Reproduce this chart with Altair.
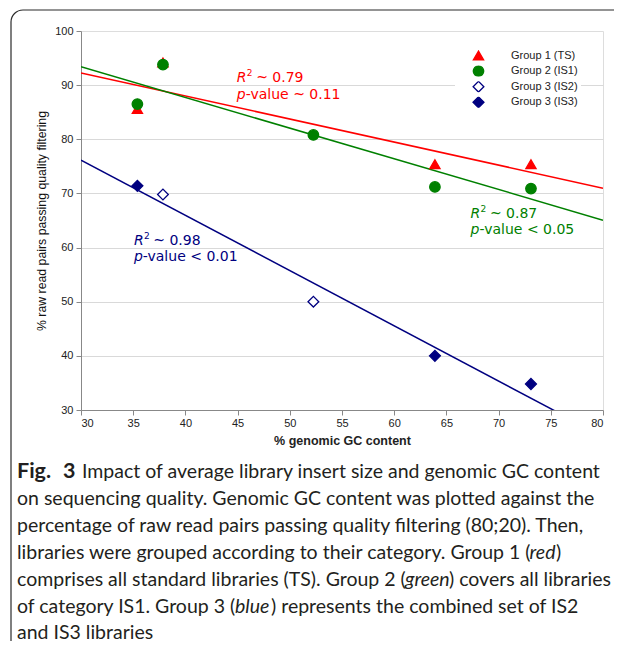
import altair as alt
import pandas as pd

# ---------------- data ----------------
groups = ["Group 1 (TS)", "Group 2 (IS1)", "Group 3 (IS2)", "Group 3 (IS3)"]
fit_sets = ["TS", "IS1", "IS2+IS3"]

gc_ts = [35.4, 37.85, 63.9, 73.1]
q_ts = [85.6, 94.2, 75.4, 75.4]
gc_is1 = [35.4, 37.85, 52.26, 63.9, 73.1]
q_is1 = [86.5, 93.8, 80.8, 71.2, 70.9]
gc_is2 = [37.85, 52.26]
q_is2 = [69.8, 50.0]
gc_is3 = [35.4, 63.9, 73.1]
q_is3 = [71.4, 40.0, 34.8]

x_ticks = list(range(30, 81, 5))
y_ticks = list(range(30, 101, 5))

# regression annotations (data coordinates of the text block)
ann_x = [44.93, 67.32, 35.07]
ann_y_r2 = [91.3, 66.2, 61.2]
ann_y_p = [88.1, 63.2, 58.2]
ann_r2 = ["~ 0.79", "~ 0.87", "~ 0.98"]
ann_p = ["-value ~ 0.11", "-value < 0.05", "-value < 0.01"]

caption = [
    [("Fig.", "bold"), ("3", "bold"), ("Impact of average library insert size and genomic GC content", "normal")],
    [("on sequencing quality. Genomic GC content was plotted against the", "normal")],
    [("percentage of raw read pairs passing quality filtering (80;20). Then,", "normal")],
    [("libraries were grouped according to their category. Group 1 (", "normal"), ("red", "italic"), (")", "normal")],
    [("comprises all standard libraries (TS). Group 2 (", "normal"), ("green", "italic"), (") covers all libraries", "normal")],
    [("of category IS1. Group 3 (", "normal"), ("blue", "italic"), (") represents the combined set of IS2", "normal")],
    [("and IS3 libraries", "normal")],
]

# ---------------- styles ----------------
group_shapes = ["triangle-up", "circle", "diamond", "diamond"]
group_fill = ["#ff0000", "#008000", "#ffffff", "#000080"]
group_stroke = ["#ff0000", "#008000", "#000080", "#000080"]
group_size = [105, 120, 70, 80]
fit_colors = ["#ff0000", "#008000", "#000080"]
ann_colors = ["#ff0000", "#008000", "#000080"]

W, H = 522, 379
# caption piece x positions (pixels relative to plot left) and baselines
cap_x = [[-64, -18, 1], [-64], [-64], [-64, 448.5, 475], [-64, 324, 368], [-64, 154, 190], [-64]]
cap_base = [446.5, 473.5, 500.5, 527.5, 554.5, 581.5, 607.5]
cap_size = 19.5

rows = []
for g, fit, xs, ys in [(groups[0], fit_sets[0], gc_ts, q_ts),
                       (groups[1], fit_sets[1], gc_is1, q_is1),
                       (groups[2], fit_sets[2], gc_is2, q_is2),
                       (groups[3], fit_sets[2], gc_is3, q_is3)]:
    for xv, yv in zip(xs, ys):
        rows.append({"group": g, "fit": fit, "gc": xv, "q": yv})
df = pd.DataFrame(rows)

ann_df = pd.DataFrame({"x": ann_x, "yr": ann_y_r2, "yp": ann_y_p,
                       "r2": ann_r2, "p": ann_p, "col": ann_colors})
one = pd.DataFrame({"a": [0]})

X = alt.X("gc:Q", scale=alt.Scale(domain=[30, 80], nice=False, zero=False),
          axis=alt.Axis(values=x_ticks, title="% genomic GC content", grid=False,
                        domainColor="#888888", tickColor="#888888", tickSize=5,
                        labelFont="Liberation Sans", labelFontSize=11, labelColor="#222222",
                        labelPadding=2, titleFont="Liberation Sans", titleFontSize=12.5,
                        titleFontWeight="bold", titleColor="#222222", titlePadding=6))
Y = alt.Y("q:Q", scale=alt.Scale(domain=[30, 100], nice=False, zero=False),
          axis=alt.Axis(values=y_ticks, title="% raw read pairs passing quality filtering",
                        grid=True, gridColor="#d9d9d9", gridWidth=1,
                        gridOpacity={"condition": {"test": "datum.value > 30 && datum.value < 100", "value": 1}, "value": 0},
                        labelExpr="datum.value % 10 === 0 ? datum.label : ''",
                        tickOpacity={"condition": {"test": "datum.value % 10 === 0", "value": 1}, "value": 0},
                        domainColor="#888888", tickColor="#888888", tickSize=5,
                        labelFont="Liberation Sans", labelFontSize=11, labelColor="#222222",
                        labelPadding=3, titleFont="Liberation Sans", titleFontSize=12.3,
                        titleFontWeight="normal", titleColor="#111111", titlePadding=6))

frame = alt.Chart(one).mark_rect(fillOpacity=0, stroke="#2b2b2b", strokeWidth=1.2,
                                 cornerRadius=12).encode(
    x=alt.value(-70), x2=alt.value(W + 60), y=alt.value(-21), y2=alt.value(H + 260))

lines = alt.Chart(df).transform_regression(
    "gc", "q", groupby=["fit"], extent=[30, 80]
).mark_line(clip=True, strokeWidth=1.5).encode(
    x=X, y=Y,
    color=alt.Color("fit:N", scale=alt.Scale(domain=fit_sets, range=fit_colors), legend=None))

leg = alt.Legend(title=None, orient="none", legendX=374, legendY=16, fillColor="white",
                 padding=3, symbolOffset=14, labelOffset=26, labelFont="Liberation Sans",
                 labelFontSize=11, labelColor="#222222", rowPadding=3.6, clipHeight=11,
                 symbolStrokeWidth=1.3)

points = alt.Chart(df).mark_point(opacity=1, fillOpacity=1, strokeWidth=1.3).encode(
    x=X, y=Y,
    shape=alt.Shape("group:N", scale=alt.Scale(domain=groups, range=group_shapes), legend=leg),
    fill=alt.Fill("group:N", scale=alt.Scale(domain=groups, range=group_fill), legend=leg),
    stroke=alt.Stroke("group:N", scale=alt.Scale(domain=groups, range=group_stroke), legend=leg),
    size=alt.Size("group:N", scale=alt.Scale(domain=groups, range=group_size), legend=leg),
)

ann_layers = []
base_ann = alt.Chart(ann_df)
txt_kw = dict(font="DejaVu Sans", fontSize=14, align="left", baseline="middle")
ann_layers.append(base_ann.mark_text(fontStyle="italic", text="R", **txt_kw).encode(
    x=alt.X("x:Q"), y=alt.Y("yr:Q"), color=alt.Color("col:N", scale=None)))
ann_layers.append(base_ann.mark_text(font="DejaVu Sans", fontSize=9, align="left",
                                     baseline="middle", dx=10, dy=-5, text="2").encode(
    x=alt.X("x:Q"), y=alt.Y("yr:Q"), color=alt.Color("col:N", scale=None)))
ann_layers.append(base_ann.mark_text(dx=19.3, **txt_kw).encode(
    x=alt.X("x:Q"), y=alt.Y("yr:Q"), text="r2:N", color=alt.Color("col:N", scale=None)))
ann_layers.append(base_ann.mark_text(fontStyle="italic", text="p", **txt_kw).encode(
    x=alt.X("x:Q"), y=alt.Y("yp:Q"), color=alt.Color("col:N", scale=None)))
ann_layers.append(base_ann.mark_text(dx=8.9, **txt_kw).encode(
    x=alt.X("x:Q"), y=alt.Y("yp:Q"), text="p:N", color=alt.Color("col:N", scale=None)))

cap_layers = []
for li, pieces in enumerate(caption):
    for pi, (t, style) in enumerate(pieces):
        kw = dict(font="Lato", fontSize=cap_size, align="left", baseline="alphabetic",
                  color="#231f20", text=t)
        if style == "bold":
            kw["fontWeight"] = "bold"
            kw["fontSize"] = cap_size + 2
        if style == "italic":
            kw["fontStyle"] = "italic"
        cap_layers.append(alt.Chart(one).mark_text(**kw).encode(
            x=alt.value(cap_x[li][pi]), y=alt.value(cap_base[li])))

chart = alt.layer(frame, lines, points, *ann_layers, *cap_layers).properties(
    width=W, height=H,
    autosize=alt.AutoSizeParams(type="none"),
    padding={"left": 73, "top": 23, "right": 11, "bottom": 231},
).configure_view(stroke="#a0a0a0", strokeWidth=1).configure(background="white")

chart.save("out.html", embed_options={"renderer": "svg", "actions": False})
